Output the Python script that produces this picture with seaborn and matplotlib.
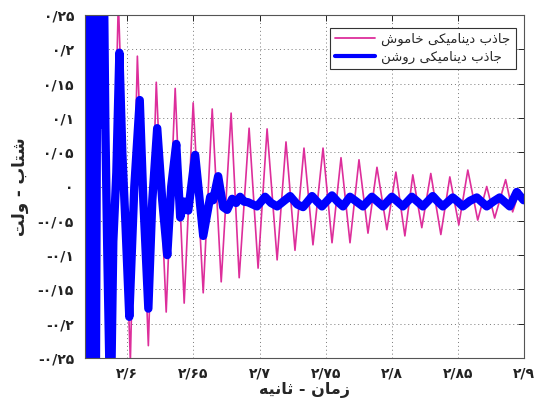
import matplotlib
matplotlib.use("Agg")
import matplotlib.pyplot as plt
from matplotlib.lines import Line2D
import seaborn as sns

sns.set_theme(style="white")
plt.rcParams['font.family'] = ['DejaVu Sans']

# Persian text, stored in presentation forms and visual order (matplotlib has no shaping / bidi)
LABEL_X = "\uFEEA\uFBFF\uFEE7\uFE8E\uFE9B - \uFEE5\uFE8E\uFEE3\uFEAF"          # زمان - ثانیه
LABEL_Y = "\uFE96\uFEDF\uFEED - \uFE8F\uFE8E\uFE98\uFEB7"                      # شتاب - ولت
LEG_OFF = "\uFEB5\uFEEE\uFEE3\uFE8E\uFEA7 \uFBFD\uFB91\uFBFF\uFEE3\uFE8E\uFEE8\uFBFE\uFEA9 \uFE8F\uFEAB\uFE8E\uFE9F"  # جاذب دینامیکی خاموش
LEG_ON = "\uFEE6\uFEB7\uFEED\uFEAD \uFBFD\uFB91\uFBFF\uFEE3\uFE8E\uFEE8\uFBFE\uFEA9 \uFE8F\uFEAB\uFE8E\uFE9F"        # جاذب دینامیکی روشن

x_ticks = [2.6, 2.65, 2.7, 2.75, 2.8, 2.85, 2.9]
x_tick_labels = ["۲/۶", "۲/۶۵", "۲/۷", "۲/۷۵", "۲/۸", "۲/۸۵", "۲/۹"]
y_ticks = [0.25, 0.2, 0.15, 0.1, 0.05, 0, -0.05, -0.1, -0.15, -0.2, -0.25]
y_tick_labels = ["۰/۲۵", "۰/۲", "۰/۱۵", "۰/۱", "۰/۰۵", "۰",
                 "-۰/۰۵", "-۰/۱", "-۰/۱۵", "-۰/۲", "-۰/۲۵"]

# absorber off (peaks / troughs)
t_off = [2.5683, 2.5728, 2.5789, 2.5864, 2.5932, 2.6023, 2.6076, 2.6159, 2.6219, 2.6294,
         2.6362, 2.6430, 2.6498, 2.6574, 2.6642, 2.6710, 2.6785, 2.6846, 2.6921, 2.6989,
         2.7057, 2.7133, 2.7200, 2.7268, 2.7336, 2.7404, 2.7480, 2.7548, 2.7616, 2.7684,
         2.7752, 2.7820, 2.7888, 2.7963, 2.8031, 2.8099, 2.8159, 2.8227, 2.8295, 2.8371,
         2.8439, 2.8507, 2.8575, 2.8650, 2.8718, 2.8778, 2.8861, 2.8914, 2.8967, 2.8997]
v_off = [0.0, -0.3, 0.3, -0.3, 0.27, -0.255, 0.19, -0.232, 0.152, -0.183,
         0.143, -0.17, 0.122, -0.155, 0.113, -0.139, 0.107, -0.133, 0.085, -0.119,
         0.084, -0.107, 0.065, -0.093, 0.056, -0.085, 0.056, -0.082, 0.042, -0.082,
         0.039, -0.068, 0.028, -0.063, 0.021, -0.072, 0.017, -0.06, 0.019, -0.07,
         0.014, -0.056, 0.024, -0.049, 0.0, -0.046, 0.01, -0.037, -0.005, -0.02]

# absorber on
t_on = [2.5683, 2.5694, 2.5706, 2.5717, 2.5728, 2.5740, 2.5751, 2.5762, 2.5774, 2.5789,
        2.5800, 2.5811, 2.5823, 2.5834, 2.5849, 2.5868, 2.5879, 2.5894, 2.5917, 2.5940,
        2.5962, 2.5985, 2.6015, 2.6053, 2.6094, 2.6121, 2.6159, 2.6189, 2.6226, 2.6264,
        2.6302, 2.6332, 2.6370, 2.6400, 2.6430, 2.6461, 2.6513, 2.6574, 2.6627, 2.6649,
        2.6687, 2.6725, 2.6755, 2.6793, 2.6823, 2.6853, 2.6883, 2.6913, 2.6981, 2.7012,
        2.7042, 2.7087, 2.7133, 2.7185, 2.7231, 2.7284, 2.7329, 2.7363, 2.7397, 2.7435,
        2.7472, 2.7510, 2.7548, 2.7590, 2.7631, 2.7684, 2.7733, 2.7782, 2.7850, 2.7892,
        2.7933, 2.8001, 2.8043, 2.8084, 2.8152, 2.8194, 2.8235, 2.8310, 2.8348, 2.8386,
        2.8461, 2.8499, 2.8537, 2.8590, 2.8643, 2.8718, 2.8767, 2.8816, 2.8892, 2.8945,
        2.8997]
v_on = [0.3, -0.3, 0.3, -0.3, 0.3, -0.3, 0.19, -0.3, 0.3, 0.1,
        0.3, 0.09, 0.3, 0.087, -0.1, -0.3, -0.28, -0.08, 0.02, 0.195,
        0.05, -0.05, -0.19, 0.0, 0.126, -0.02, -0.178, -0.02, 0.085, -0.02,
        -0.1, 0.0, 0.062, -0.045, -0.022, -0.035, 0.046, -0.072, -0.015, -0.02,
        0.015, -0.03, -0.034, -0.018, -0.024, -0.015, -0.022, -0.023, -0.029, -0.022,
        -0.015, -0.024, -0.029, -0.021, -0.014, -0.026, -0.03, -0.022, -0.014, -0.022,
        -0.029, -0.021, -0.013, -0.022, -0.029, -0.015, -0.022, -0.029, -0.015, -0.022,
        -0.029, -0.015, -0.022, -0.029, -0.015, -0.022, -0.029, -0.014, -0.022, -0.029,
        -0.016, -0.022, -0.029, -0.021, -0.016, -0.029, -0.022, -0.016, -0.029, -0.008,
        -0.02]

magenta = '#DD2E9B'
blue = '#0000FF'

fig, ax = plt.subplots(figsize=(5.38, 4.05), dpi=100)
fig.subplots_adjust(left=0.158, right=0.974, bottom=0.116, top=0.963)

sns.lineplot(x=t_off, y=v_off, ax=ax, color=magenta, linewidth=1.2,
             estimator=None, sort=False)
sns.lineplot(x=t_on, y=v_on, ax=ax, color=blue, linewidth=6,
             estimator=None, sort=False)

ax.set_xlim(2.568, 2.9)
ax.set_ylim(-0.25, 0.25)
ax.set_xticks(x_ticks)
ax.set_xticklabels(x_tick_labels, fontsize=10, fontweight='bold')
ax.set_yticks(y_ticks)
ax.set_yticklabels(y_tick_labels, fontsize=10, fontweight='bold')
ax.tick_params(direction='in', length=4, width=0.7, top=True, right=True,
               colors='#222222')
ax.tick_params(axis='x', pad=6)
ax.tick_params(axis='y', pad=8)

ax.grid(True, linestyle=(0, (1, 3)), color='#777777', linewidth=0.7)
for s in ax.spines.values():
    s.set_color('#555555')
    s.set_linewidth(0.8)

ax.set_xlabel(LABEL_X, fontsize=11.5, fontweight='bold', labelpad=1)
ax.set_ylabel(LABEL_Y, fontsize=12, fontweight='bold', labelpad=6)

handles = [Line2D([], [], color=magenta, linewidth=1.3),
           Line2D([], [], color=blue, linewidth=3)]
leg = ax.legend(handles, [LEG_OFF, LEG_ON], loc='upper right',
                bbox_to_anchor=(0.99, 0.975), fontsize=9.5, frameon=True,
                fancybox=False, framealpha=1, edgecolor='#333333',
                handlelength=3, handletextpad=0.5, borderpad=0.4,
                labelspacing=0.35, borderaxespad=0.3)
leg.get_frame().set_linewidth(0.8)

plt.savefig('out.png', dpi=100)
